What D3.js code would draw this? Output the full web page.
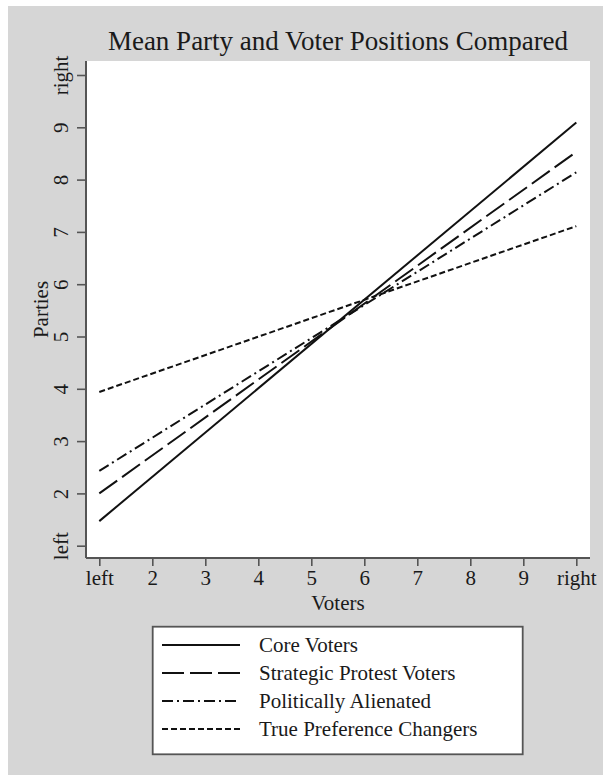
<!DOCTYPE html>
<html><head><meta charset="utf-8">
<script src="https://cdn.jsdelivr.net/npm/d3@7"></script>
<style>body{margin:0;background:#fff}svg{display:block}text{font-family:"Liberation Serif","Times New Roman",serif;fill:#1a1a1a}</style>
</head><body>
<script>
// Data
const series = ["Core Voters", "Strategic Protest Voters", "Politically Alienated", "True Preference Changers"];
const xEnds = [1, 10];
const coreVals = [1.47, 9.09];
const strategicVals = [2.0, 8.53];
const alienatedVals = [2.43, 8.14];
const trueprefVals = [3.94, 7.11];
const tickValues = [1, 2, 3, 4, 5, 6, 7, 8, 9, 10];
const tickLabels = ["left", "2", "3", "4", "5", "6", "7", "8", "9", "right"];
const dashes = ["none", "22,6", "11,4,2,4", "6,3"];

const W = 603, H = 775;
const svg = d3.select("body").append("svg").attr("width", W).attr("height", H);
svg.append("rect").attr("x", 8).attr("y", 6).attr("width", W - 8).attr("height", H - 6).attr("fill", "#d6d6d6");

const plot = {l: 86, t: 61, r: 590, b: 558};
svg.append("rect").attr("x", plot.l).attr("y", plot.t).attr("width", plot.r - plot.l).attr("height", plot.b - plot.t).attr("fill", "#fff");

const x = d3.scaleLinear().domain([1, 10]).range([99.3, 576.3]);
const y = d3.scaleLinear().domain([1, 10]).range([545.7, 75]);
const fmt = d => tickLabels[tickValues.indexOf(d)];
const axisColor = "#555";

// X axis
const gx = svg.append("g").attr("transform", `translate(0,${plot.b})`)
  .call(d3.axisBottom(x).tickValues(tickValues).tickFormat(fmt).tickSize(8).tickPadding(4));
gx.select(".domain").remove();
gx.selectAll(".tick line").attr("stroke", axisColor).attr("stroke-width", 1.6);
gx.selectAll(".tick text").attr("font-size", 21).attr("fill", "#1a1a1a").attr("font-family", "Liberation Serif");
svg.append("line").attr("x1", plot.l).attr("x2", plot.r).attr("y1", plot.b).attr("y2", plot.b).attr("stroke", axisColor).attr("stroke-width", 2);

// Y axis
const gy = svg.append("g").attr("transform", `translate(${plot.l},0)`)
  .call(d3.axisLeft(y).tickValues(tickValues).tickFormat(fmt).tickSize(9));
gy.select(".domain").remove();
gy.selectAll(".tick line").attr("stroke", axisColor).attr("stroke-width", 1.6);
gy.selectAll(".tick text").attr("font-size", 21).attr("fill", "#1a1a1a").attr("font-family", "Liberation Serif")
  .attr("x", null).attr("dy", null)
  .attr("text-anchor", "middle").attr("dominant-baseline", "central")
  .attr("transform", "translate(-25,0) rotate(-90)");
svg.append("line").attr("x1", plot.l).attr("x2", plot.l).attr("y1", plot.t).attr("y2", plot.b).attr("stroke", axisColor).attr("stroke-width", 2);

// Axis titles
svg.append("text").attr("x", (plot.l + plot.r) / 2).attr("y", 610).attr("text-anchor", "middle").attr("font-size", 21).text("Voters");
svg.append("text").attr("transform", `translate(41,${(plot.t + plot.b) / 2}) rotate(-90)`).attr("text-anchor", "middle").attr("dominant-baseline", "central").attr("font-size", 21).text("Parties");

// Title
svg.append("text").attr("x", (plot.l + plot.r) / 2).attr("y", 50).attr("text-anchor", "middle").attr("font-size", 27).text("Mean Party and Voter Positions Compared");

// Lines
const allVals = [coreVals, strategicVals, alienatedVals, trueprefVals];
const line = d3.line().x(d => x(d[0])).y(d => y(d[1]));
allVals.forEach((vals, i) => {
  svg.append("path").datum(xEnds.map((xv, j) => [xv, vals[j]]))
    .attr("d", line).attr("fill", "none").attr("stroke", "#111").attr("stroke-width", 2)
    .attr("stroke-dasharray", dashes[i]);
});

// Legend
const lg = svg.append("g");
lg.append("rect").attr("x", 152.7).attr("y", 626.7).attr("width", 370).attr("height", 127.6).attr("fill", "#fff").attr("stroke", "#555").attr("stroke-width", 1.8);
const rowY = d3.scalePoint().domain(series).range([645, 729]);
series.forEach((s, i) => {
  const yy = rowY(s);
  lg.append("line").attr("x1", 162).attr("x2", 240).attr("y1", yy).attr("y2", yy)
    .attr("stroke", "#111").attr("stroke-width", 2).attr("stroke-dasharray", dashes[i]);
  lg.append("text").attr("x", 259).attr("y", yy).attr("dominant-baseline", "central").attr("font-size", 21).text(s);
});
</script>
</body></html>
